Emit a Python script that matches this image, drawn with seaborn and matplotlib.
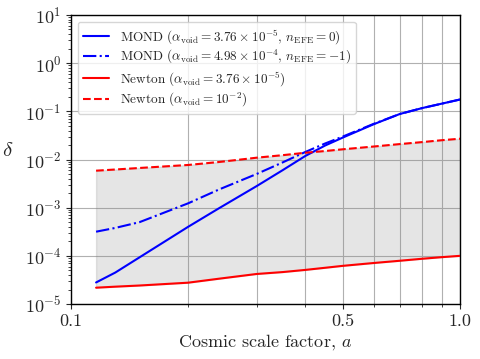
import numpy as np
import pandas as pd
import matplotlib
matplotlib.use("Agg")
import matplotlib.pyplot as plt
import matplotlib.ticker as mticker
import seaborn as sns

# ---- data ----
a = [0.116, 0.13, 0.15, 0.2, 0.24, 0.3, 0.35, 0.4, 0.45, 0.5, 0.6, 0.7, 0.8, 0.9, 1.0]
mond_efe0 = [2.8e-5, 4.5e-5, 9.3e-5, 4.0e-4, 9.7e-4, 2.8e-3, 6.0e-3, 1.18e-2, 1.95e-2,
             2.86e-2, 5.4e-2, 8.8e-2, 1.17e-1, 1.45e-1, 1.76e-1]
mond_efe1 = [3.17e-4, 3.8e-4, 5.0e-4, 1.23e-3, 2.38e-3, 5.0e-3, 8.7e-3, 1.43e-2, 2.15e-2,
             3.0e-2, 5.5e-2, 8.8e-2, 1.17e-1, 1.45e-1, 1.76e-1]
newton_low = [2.18e-5, 2.29e-5, 2.42e-5, 2.77e-5, 3.35e-5, 4.2e-5, 4.6e-5, 5.1e-5, 5.65e-5,
              6.2e-5, 7.1e-5, 7.9e-5, 8.7e-5, 9.4e-5, 1.0e-4]
newton_high = [5.86e-3, 6.2e-3, 6.67e-3, 7.7e-3, 8.87e-3, 1.09e-2, 1.23e-2, 1.38e-2, 1.5e-2,
               1.63e-2, 1.86e-2, 2.09e-2, 2.3e-2, 2.52e-2, 2.7e-2]

labels = [
    r"MOND ($\alpha_{\rm void} = 3.76 \times 10^{-5}$, $n_{\rm EFE} = 0$)",
    r"MOND ($\alpha_{\rm void} = 4.98 \times 10^{-4}$, $n_{\rm EFE} = -1$)",
    r"Newton ($\alpha_{\rm void} = 3.76 \times 10^{-5}$)",
    r"Newton ($\alpha_{\rm void} = 10^{-2}$)",
]
xticks = [0.1, 0.5, 1.0]
xticklabels = ["0.1", "0.5", "1.0"]

sns.set_style("ticks")
plt.rcParams["font.family"] = "serif"
plt.rcParams["font.serif"] = ["cmr10", "DejaVu Serif"]
plt.rcParams["mathtext.fontset"] = "cm"
plt.rcParams["axes.formatter.use_mathtext"] = True
plt.rcParams["axes.unicode_minus"] = False

fig = plt.figure(figsize=(4.8, 3.59), dpi=100)
ax = fig.add_axes([71/480, 1-304/359, (460-71)/480, (304-15)/359])

df = pd.DataFrame({"a": a, "m0": mond_efe0, "m1": mond_efe1, "nl": newton_low, "nh": newton_high})

ax.fill_between(df["a"], df["nl"], df["nh"], color="gray", alpha=0.2, lw=1, zorder=1)

sns.lineplot(data=df, x="a", y="m0", ax=ax, color="blue", lw=1.5, label=labels[0], zorder=3)
sns.lineplot(data=df, x="a", y="m1", ax=ax, color="blue", lw=1.5, linestyle="-.", label=labels[1], zorder=3)
sns.lineplot(data=df, x="a", y="nl", ax=ax, color="red", lw=1.5, label=labels[2], zorder=3)
sns.lineplot(data=df, x="a", y="nh", ax=ax, color="red", lw=1.5, linestyle="--", label=labels[3], zorder=3)

ax.set_xscale("log")
ax.set_yscale("log")
ax.set_xlim(0.1, 1.0)
ax.set_ylim(1e-5, 1e1)
ax.set_xticks(xticks)
ax.set_xticklabels(xticklabels)
ax.xaxis.set_minor_locator(mticker.LogLocator(base=10, subs=np.arange(2, 10)))
ax.xaxis.set_minor_formatter(mticker.NullFormatter())
ax.yaxis.set_major_locator(mticker.LogLocator(base=10, numticks=10))
ax.yaxis.set_minor_locator(mticker.LogLocator(base=10, subs=np.arange(2, 10), numticks=20))
ax.yaxis.set_minor_formatter(mticker.NullFormatter())

ax.grid(True, which="both", axis="x", color="#b0b0b0", lw=0.8)
ax.grid(True, which="major", axis="y", color="#b0b0b0", lw=0.8)
ax.set_axisbelow(True)

ax.tick_params(labelsize=13)
ax.set_xlabel(r"Cosmic scale factor, $a$", fontsize=13, labelpad=2)
ax.set_ylabel(r"$\delta$", fontsize=15, rotation=0, labelpad=12)
for s in ax.spines.values():
    s.set_color("black")
    s.set_linewidth(1.0)

ax.legend(loc="upper left", fontsize=9.5, labelspacing=0.2, borderaxespad=0.5)

fig.savefig("out.png", dpi=100)
